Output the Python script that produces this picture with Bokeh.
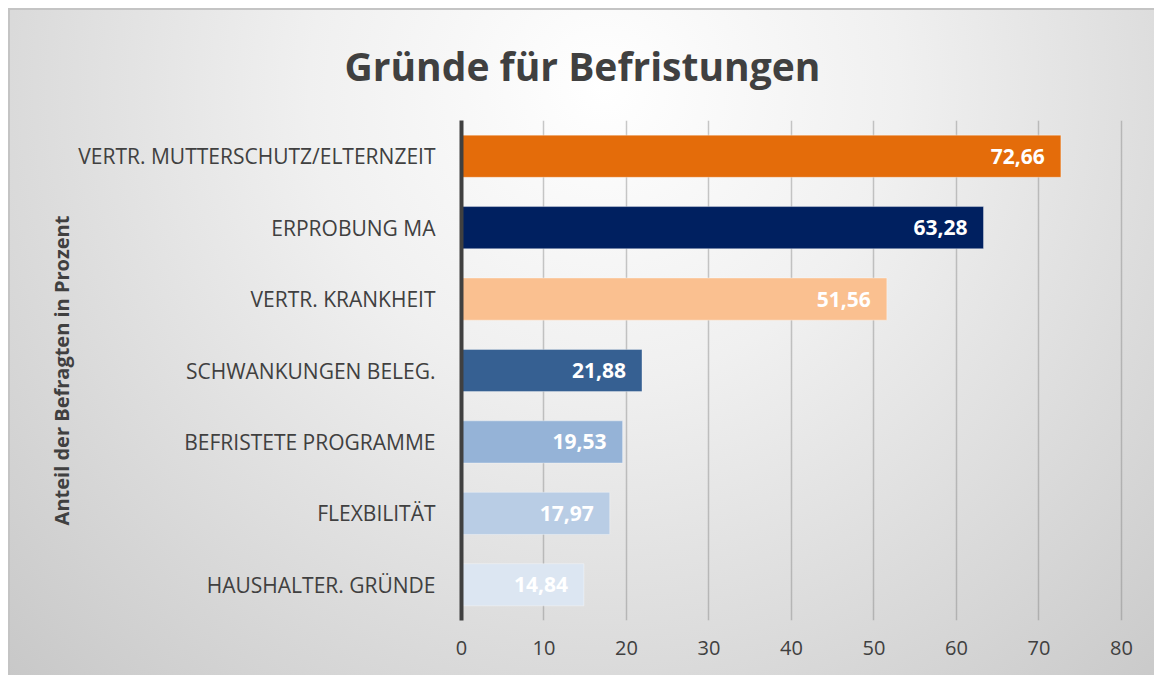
from bokeh.plotting import figure
from bokeh.models import FactorRange, Range1d, FixedTicker, ColumnDataSource, LabelSet, Title
from bokeh.core.properties import value
from bokeh.embed import file_html
from bokeh.resources import INLINE

categories = [
    "VERTR. MUTTERSCHUTZ/ELTERNZEIT",
    "ERPROBUNG MA",
    "VERTR. KRANKHEIT",
    "SCHWANKUNGEN BELEG.",
    "BEFRISTETE PROGRAMME",
    "FLEXBILITÄT",
    "HAUSHALTER. GRÜNDE",
]
values = [72.66, 63.28, 51.56, 21.88, 19.53, 17.97, 14.84]
bar_colors = ["#E46C0A", "#002060", "#FAC090", "#366092", "#95B3D7", "#B9CDE5", "#DCE6F2"]
x_ticks = [0, 10, 20, 30, 40, 50, 60, 70, 80]

FONT = "Open Sans"
TXT = "#404040"

source = ColumnDataSource(dict(
    cat=categories,
    val=values,
    color=bar_colors,
    label=[f"{v:.2f}".replace(".", ",") for v in values],
))

p = figure(
    width=1146, height=667,
    y_range=FactorRange(factors=list(reversed(categories)), range_padding=0),
    x_range=Range1d(0, 80.25),
    output_backend="svg", toolbar_location=None,
    min_border_left=453, min_border_right=31, min_border_bottom=55, min_border_top=112,
)
p.margin = (8, 0, 0, 8)
p.styles = {
    "background": "radial-gradient(ellipse farthest-corner at 52% 12%, #ffffff 0%, #f0f0f0 35%, #c8c8c8 100%)",
    "box-shadow": "inset 2px 2px 0 0 #c4c4c4",
}
p.background_fill_color = None
p.border_fill_color = None
p.outline_line_color = None

t = Title(text="Gründe für Befristungen", align="left", text_font=FONT,
          text_font_size="39px", text_font_style="bold", text_color=TXT,
          standoff=57, offset=-117)
p.add_layout(t, "above")

p.hbar(y="cat", right="val", left=0, height=0.59, source=source,
       fill_color="color", line_color="white", line_alpha=0.35, line_width=1)

labels = LabelSet(x="val", y="cat", text="label", source=source, x_offset=-16,
                  text_align="right", text_baseline="middle", text_color="white",
                  text_font=value(FONT), text_font_size="21px", text_font_style="bold")
p.add_layout(labels)

p.xgrid.grid_line_color = "#7f7f7f"
p.xgrid.grid_line_alpha = 0.42
p.xgrid.grid_line_width = 1.5
p.ygrid.grid_line_color = None
p.xgrid.level = "underlay"

p.xaxis.ticker = FixedTicker(ticks=x_ticks)
p.xaxis.axis_line_color = None
p.xaxis.major_tick_line_color = None
p.xaxis.minor_tick_line_color = None
p.xaxis.major_label_standoff = 14
p.xaxis.major_label_text_font = FONT
p.xaxis.major_label_text_font_size = "20px"
p.xaxis.major_label_text_color = TXT

p.yaxis.axis_line_color = "#404040"
p.yaxis.axis_line_width = 4
p.yaxis.major_tick_line_color = None
p.yaxis.minor_tick_line_color = None
p.yaxis.major_label_standoff = 20
p.yaxis.major_label_text_font = FONT
p.yaxis.major_label_text_font_size = "21px"
p.yaxis.major_label_text_color = TXT
p.yaxis.axis_label = "Anteil der Befragten in Prozent"
p.yaxis.axis_label_text_font = FONT
p.yaxis.axis_label_text_font_size = "20px"
p.yaxis.axis_label_text_font_style = "bold"
p.yaxis.axis_label_text_color = TXT
p.yaxis.axis_label_standoff = 0

open("out.html", "w").write(file_html(p, INLINE))
